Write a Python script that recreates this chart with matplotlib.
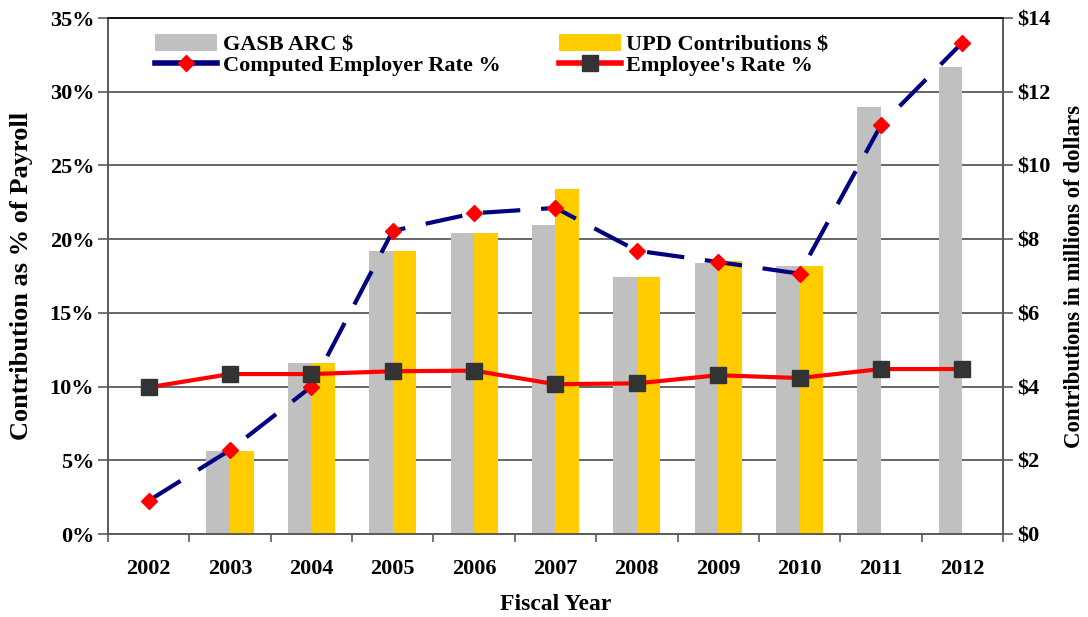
import numpy as np
import matplotlib
matplotlib.use("Agg")
import matplotlib.pyplot as plt
from matplotlib.ticker import FixedLocator
from matplotlib.lines import Line2D

# data
years = ['2002', '2003', '2004', '2005', '2006', '2007', '2008', '2009', '2010', '2011', '2012']
gasb_arc = [np.nan, 2.25, 4.65, 7.69, 8.17, 8.38, 6.97, 7.36, 7.27, 11.58, 12.68]        # $ millions
upd_contrib = [np.nan, 2.25, 4.65, 7.69, 8.17, 9.36, 6.97, 7.41, 7.27, np.nan, np.nan]  # $ millions
employer_rate = [2.26, 5.70, 10.0, 20.56, 21.76, 22.12, 19.22, 18.45, 17.66, 27.73, 33.33]  # %
employee_rate = [9.95, 10.85, 10.85, 11.04, 11.08, 10.16, 10.22, 10.77, 10.58, 11.19, 11.19]  # %

plt.rcParams['font.family'] = ['Liberation Serif', 'DejaVu Serif']
plt.rcParams['font.weight'] = 'bold'

fig = plt.figure(figsize=(10.88, 6.17), dpi=100)
ax = fig.add_axes([0.0993, 0.1345, 0.8225, 0.8363])
ax2 = ax.twinx()
ax.set_zorder(ax2.get_zorder() + 1)
ax.patch.set_visible(False)

x = np.arange(len(years))
w = 0.29
gridc = '#5a5a5a'
navy = '#000080'
red = '#FF0000'
dark = '#333333'

# bars on the right ($) axis
b1 = ax2.bar(x - w / 2, gasb_arc, w, color='#C0C0C0', label='GASB ARC $', zorder=2)
b2 = ax2.bar(x + w / 2, upd_contrib, w, color='#FFCC00', label='UPD Contributions $', zorder=2)
ax2.set_ylim(0, 14)
ax2.set_yticks(np.arange(0, 15, 2))
ax2.set_yticklabels(['$%d' % v for v in range(0, 15, 2)])
ax2.yaxis.grid(True, color=gridc, linewidth=1.3, zorder=0)
ax2.set_axisbelow(True)

# lines on the left (%) axis
ax.plot(x, employer_rate, color=navy, linewidth=3, dashes=(9, 5),
        marker='D', markersize=8.5, markerfacecolor=red, markeredgecolor=red, zorder=4)
ax.plot(x, employee_rate, color=red, linewidth=3,
        marker='s', markersize=11, markerfacecolor=dark, markeredgecolor=dark, zorder=5)
ax.set_ylim(0, 35)
ax.set_yticks(np.arange(0, 36, 5))
ax.set_yticklabels(['%d%%' % v for v in range(0, 36, 5)])
ax.set_xlim(-0.5, len(years) - 0.5)

# x ticks: labels at centres, marks between categories
ax.set_xticks(x)
ax.set_xticklabels(years)
ax.xaxis.set_minor_locator(FixedLocator(np.arange(-0.5, len(years), 1.0)))
ax.tick_params(axis='x', which='major', length=0, pad=18, labelsize=16)
ax.tick_params(axis='x', which='minor', length=6, width=1.2, color=gridc, direction='out')
ax.tick_params(axis='y', length=7, width=1.2, color=gridc, labelsize=16, pad=3)
ax2.tick_params(axis='y', length=7, width=1.2, color=gridc, labelsize=16, pad=3)

for a in (ax, ax2):
    for s in a.spines.values():
        s.set_color(gridc)
        s.set_linewidth(1.2)
    a.spines['top'].set_color('#111111')

ax.set_xlabel('Fiscal Year', fontsize=17, fontweight='bold', labelpad=11)
ax.set_ylabel('Contribution as % of Payroll', fontsize=19, fontweight='bold', labelpad=12)
ax2.set_ylabel('Contributions in millions of dollars', fontsize=16.5, fontweight='bold', labelpad=10)

# legend: two columns placed separately
h_emp = Line2D([], [], color=navy, linewidth=4, marker='D', markersize=8,
               markerfacecolor=red, markeredgecolor=red)
h_ee = Line2D([], [], color=red, linewidth=4, marker='s', markersize=11,
              markerfacecolor=dark, markeredgecolor=dark)
kw = dict(loc='upper left', frameon=False, fontsize=16, handlelength=2.8,
          handleheight=0.8, handletextpad=0.25, labelspacing=0.0, borderpad=0,
          borderaxespad=0)
leg1 = fig.legend([b1, h_emp], ['GASB ARC $', 'Computed Employer Rate %'],
                  bbox_to_anchor=(0.1425, 0.945), **kw)
leg2 = fig.legend([b2, h_ee], ['UPD Contributions $', "Employee's Rate %"],
                  bbox_to_anchor=(0.5135, 0.945), **kw)

fig.savefig('out.png', dpi=100)
